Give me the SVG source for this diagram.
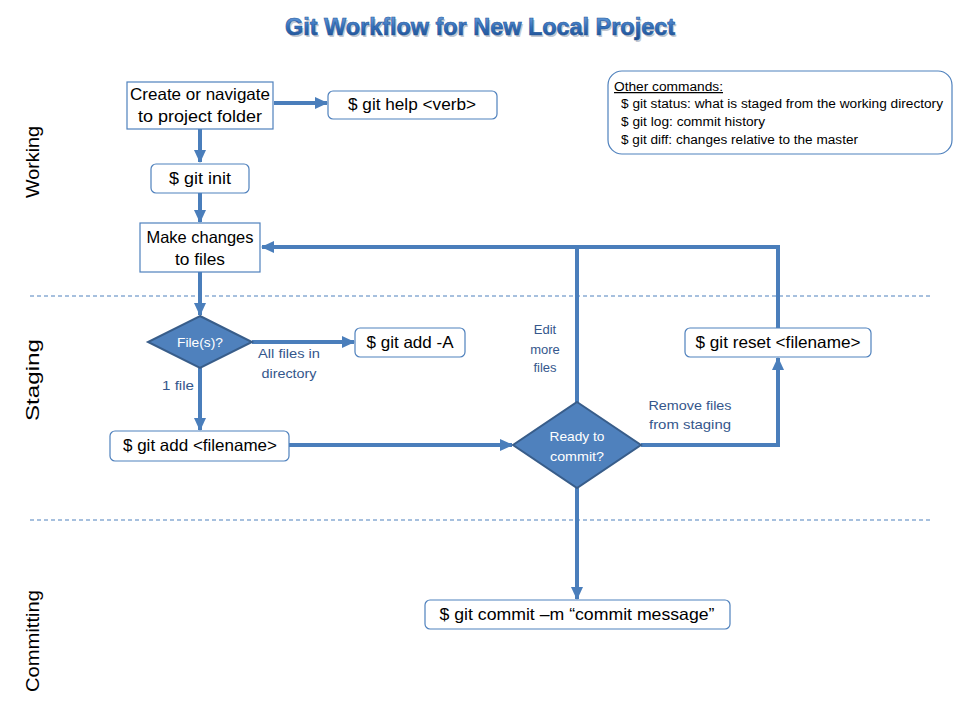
<svg xmlns="http://www.w3.org/2000/svg" width="960" height="720" viewBox="0 0 960 720">
<defs>
<linearGradient id="tg" x1="0" y1="0" x2="0" y2="1">
<stop offset="0" stop-color="#6fa4e0"/>
<stop offset="0.5" stop-color="#336fbb"/>
<stop offset="1" stop-color="#1b4a8a"/>
</linearGradient>
<marker id="ah" markerUnits="userSpaceOnUse" markerWidth="14" markerHeight="14" viewBox="0 0 14 14" refX="12" refY="7" orient="auto">
<path d="M0,1 L13,7 L0,13 Z" fill="#4a7ebb"/>
</marker>
<style>
.t{font-family:"Liberation Sans",Arial,sans-serif;fill:#000;font-size:16.5px;text-anchor:middle}
.lab{font-family:"Liberation Sans",Arial,sans-serif;fill:#35578c;font-size:13px;text-anchor:middle}
.dt{font-family:"Liberation Sans",Arial,sans-serif;fill:#fff;font-size:13.5px;text-anchor:middle}
.side{font-family:"Liberation Sans",Arial,sans-serif;fill:#000;font-size:18px;text-anchor:middle}
.oc{font-family:"Liberation Sans",Arial,sans-serif;fill:#000;font-size:12.5px}
.box{fill:#fff;stroke:#4f81bd;stroke-width:1.2}
.dia{fill:#4f81bd;stroke:#385d8a;stroke-width:2}
.ln{fill:none;stroke:#4a7ebb;stroke-width:4}
.dash{stroke:#4f81bd;stroke-width:1;stroke-dasharray:4 3}
</style>
</defs>
<rect width="960" height="720" fill="#fff"/>

<g id="title">
<text x="481.5" y="36.5" font-family="Liberation Sans,Arial,sans-serif" font-weight="bold" font-size="23" text-anchor="middle" fill="#9aa5b5" opacity="0.6" textLength="390" lengthAdjust="spacingAndGlyphs">Git Workflow for New Local Project</text>
<text x="480" y="35" font-family="Liberation Sans,Arial,sans-serif" font-weight="bold" font-size="23" text-anchor="middle" fill="url(#tg)" stroke="#24579a" stroke-width="0.6" textLength="390" lengthAdjust="spacingAndGlyphs">Git Workflow for New Local Project</text>
</g>

<g id="lanes">
<line class="dash" x1="30" y1="296" x2="930" y2="296"/>
<line class="dash" x1="30" y1="520" x2="930" y2="520"/>
<text class="side" transform="translate(39,162) rotate(-90)" textLength="72" lengthAdjust="spacingAndGlyphs">Working</text>
<text class="side" transform="translate(39,380) rotate(-90)" textLength="82" lengthAdjust="spacingAndGlyphs">Staging</text>
<text class="side" transform="translate(39,641) rotate(-90)" textLength="102" lengthAdjust="spacingAndGlyphs">Committing</text>
</g>

<g id="connectors">
<line class="ln" x1="274" y1="103" x2="327" y2="103" marker-end="url(#ah)"/>
<line class="ln" x1="200" y1="129" x2="200" y2="162" marker-end="url(#ah)"/>
<line class="ln" x1="200" y1="193" x2="200" y2="222" marker-end="url(#ah)"/>
<line class="ln" x1="200" y1="272" x2="200" y2="315" marker-end="url(#ah)"/>
<line class="ln" x1="252" y1="342" x2="354" y2="342" marker-end="url(#ah)"/>
<line class="ln" x1="200" y1="368" x2="200" y2="430" marker-end="url(#ah)"/>
<line class="ln" x1="289" y1="445" x2="512" y2="445" marker-end="url(#ah)"/>
<polyline class="ln" points="577,402 577,247"/>
<polyline class="ln" points="778,328 778,247 262,247" marker-end="url(#ah)"/>
<polyline class="ln" points="641,445 778,445 778,358" marker-end="url(#ah)"/>
<line class="ln" x1="577" y1="488" x2="577" y2="599" marker-end="url(#ah)"/>
<text class="lab" x="289" y="358" textLength="62" lengthAdjust="spacingAndGlyphs">All files in</text>
<text class="lab" x="289" y="378" textLength="55" lengthAdjust="spacingAndGlyphs">directory</text>
<text class="lab" x="178" y="390" textLength="32" lengthAdjust="spacingAndGlyphs">1 file</text>
<text class="lab" x="545" y="334">Edit</text>
<text class="lab" x="545" y="354">more</text>
<text class="lab" x="545" y="372">files</text>
<text class="lab" x="690" y="410" textLength="83" lengthAdjust="spacingAndGlyphs">Remove files</text>
<text class="lab" x="690" y="429" textLength="82" lengthAdjust="spacingAndGlyphs">from staging</text>
</g>

<g id="create">
<rect class="box" x="127" y="82" width="146" height="47"/>
<text class="t" x="200" y="100" textLength="140" lengthAdjust="spacingAndGlyphs">Create or navigate</text>
<text class="t" x="200" y="122" textLength="124" lengthAdjust="spacingAndGlyphs">to project folder</text>
</g>

<g id="help">
<rect class="box" x="328" y="91" width="169" height="28" rx="5"/>
<text class="t" x="412" y="110" textLength="128" lengthAdjust="spacingAndGlyphs">$ git help &lt;verb&gt;</text>
</g>

<g id="init">
<rect class="box" x="151" y="164" width="98" height="29" rx="5"/>
<text class="t" x="200" y="184" textLength="62" lengthAdjust="spacingAndGlyphs">$ git init</text>
</g>

<g id="changes">
<rect class="box" x="140" y="223" width="120" height="49"/>
<text class="t" x="200" y="243" textLength="107" lengthAdjust="spacingAndGlyphs">Make changes</text>
<text class="t" x="200" y="265" textLength="50" lengthAdjust="spacingAndGlyphs">to files</text>
</g>

<g id="files">
<polygon class="dia" points="200,316 252,342 200,368 148,342"/>
<text class="dt" x="200" y="347" textLength="46" lengthAdjust="spacingAndGlyphs">File(s)?</text>
</g>

<g id="addall">
<rect class="box" x="355" y="328" width="110" height="29" rx="5"/>
<text class="t" x="410" y="348" textLength="87" lengthAdjust="spacingAndGlyphs">$ git add -A</text>
</g>

<g id="addfile">
<rect class="box" x="110" y="431" width="179" height="30" rx="5"/>
<text class="t" x="200" y="451" textLength="154" lengthAdjust="spacingAndGlyphs">$ git add &lt;filename&gt;</text>
</g>

<g id="ready">
<polygon class="dia" points="577,402 641,445 577,488 513,445"/>
<text class="dt" x="577" y="441" textLength="55" lengthAdjust="spacingAndGlyphs">Ready to</text>
<text class="dt" x="577" y="461" textLength="54" lengthAdjust="spacingAndGlyphs">commit?</text>
</g>

<g id="reset">
<rect class="box" x="685" y="328" width="186" height="29" rx="5"/>
<text class="t" x="778" y="348" textLength="165" lengthAdjust="spacingAndGlyphs">$ git reset &lt;filename&gt;</text>
</g>

<g id="commit">
<rect class="box" x="425" y="600" width="305" height="29" rx="5"/>
<text class="t" x="577" y="620" textLength="275" lengthAdjust="spacingAndGlyphs">$ git commit –m “commit message”</text>
</g>

<g id="other">
<rect class="box" x="608" y="71" width="344" height="83" rx="14"/>
<text class="oc" x="614" y="91" textLength="109" lengthAdjust="spacingAndGlyphs" text-decoration="underline">Other commands:</text>
<text class="oc" x="621" y="108" textLength="322" lengthAdjust="spacingAndGlyphs">$ git status: what is staged from the working directory</text>
<text class="oc" x="621" y="126" textLength="144" lengthAdjust="spacingAndGlyphs">$ git log: commit history</text>
<text class="oc" x="621" y="144" textLength="237" lengthAdjust="spacingAndGlyphs">$ git diff: changes relative to the master</text>
</g>
</svg>
